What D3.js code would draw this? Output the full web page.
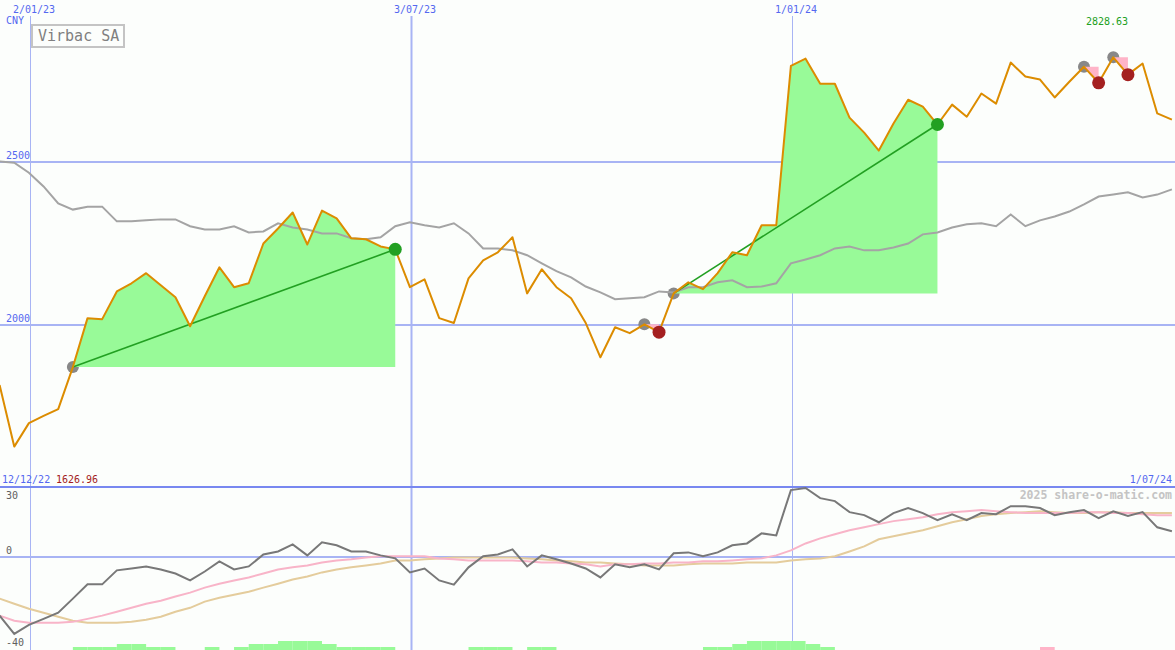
<!DOCTYPE html>
<meta charset="utf-8">
<script src="https://d3js.org/d3.v7.min.js"></script>
<style>
body { margin: 0; background: #fcfefc; }
text { font-family: "DejaVu Sans Mono", monospace; }
</style>
<div id="chart"></div>
<script>
// weekly data, first point is the week of 18 Dec 2022
var firstWeek = new Date(2022, 11, 18);

var price = [1816, 1627, 1699, 1721, 1742, 1871, 2021, 2018, 2103, 2128,
  2159, 2122, 2085, 1996, 2088, 2177, 2116, 2128, 2250, 2296,
  2345, 2247, 2351, 2327, 2266, 2263, 2241, 2232, 2116, 2140,
  2021, 2006, 2143, 2198, 2223, 2269, 2097, 2171, 2116, 2082,
  2006, 1901, 1993, 1975, 2002, 1978, 2097, 2131, 2110, 2159,
  2223, 2214, 2306, 2306, 2795, 2817, 2740, 2740, 2636, 2590,
  2535, 2618, 2691, 2670, 2615, 2676, 2639, 2710, 2679, 2805,
  2762, 2753, 2698, 2746, 2792, 2743, 2821, 2768, 2802, 2649,
  2630];

var average = [2502, 2498, 2467, 2425, 2373, 2354, 2363, 2363, 2318, 2318,
  2321, 2324, 2324, 2303, 2293, 2293, 2303, 2284, 2287, 2312,
  2299, 2293, 2281, 2281, 2266, 2263, 2269, 2303, 2315, 2306,
  2299, 2312, 2281, 2235, 2235, 2229, 2214, 2189, 2165, 2146,
  2118, 2100, 2079, 2082, 2085, 2103, 2100, 2116, 2116, 2131,
  2137, 2116, 2118, 2128, 2189, 2201, 2214, 2235, 2241, 2229,
  2229, 2238, 2250, 2278, 2284, 2299, 2309, 2312, 2303, 2339,
  2303, 2321, 2333, 2348, 2370, 2394, 2400, 2407, 2391, 2400,
  2416];

var momentum = [-25.5, -33.4, -29.5, -26.9, -24.2, -18.1, -11.9, -11.9, -5.8, -5.0,
  -4.1, -5.4, -7.2, -10.2, -6.3, -1.9, -5.4, -4.1, 1.1, 2.4,
  5.5, 0.7, 6.4, 5.1, 2.4, 2.4, 0.7, -0.6, -6.7, -5.0,
  -10.2, -12.0, -4.5, 0.3, 1.1, 3.3, -4.1, 0.7, -1.0, -2.8,
  -5.0, -8.9, -3.2, -4.5, -3.2, -5.4, 1.6, 2.0, 0.3, 2.0,
  5.1, 5.9, 10.3, 9.4, 29.1, 30.0, 25.6, 24.3, 19.5, 18.2,
  15.1, 19.1, 21.3, 19.1, 16.0, 18.6, 16.0, 19.1, 18.6, 22.1,
  22.1, 21.3, 18.2, 19.5, 20.4, 16.9, 19.9, 17.8, 19.5, 12.9,
  11.2];

var signalFast = [-25.5, -27.7, -28.6, -28.6, -28.6, -28.2, -26.9, -25.5, -23.8, -22.1,
  -20.3, -19.0, -17.2, -15.5, -13.3, -11.6, -10.2, -8.9, -7.2, -5.4,
  -4.5, -3.7, -2.4, -1.5, -1.0, -0.2, 0.3, 0.3, 0.3, 0.3,
  -0.6, -1.0, -1.5, -1.5, -1.5, -1.5, -1.9, -2.4, -2.4, -2.8,
  -3.2, -4.1, -3.2, -3.2, -2.8, -2.8, -2.4, -2.4, -1.9, -1.9,
  -1.5, -1.0, -0.6, 0.7, 2.9, 5.9, 8.1, 9.9, 11.6, 12.9,
  14.3, 15.6, 16.4, 17.3, 18.6, 19.5, 19.9, 20.4, 19.9, 19.5,
  19.1, 19.1, 19.1, 19.1, 19.5, 19.5, 19.1, 19.1, 18.6, 18.2,
  18.2];

var signalSlow = [-18.1, -20.3, -22.5, -24.2, -26.0, -27.7, -28.6, -28.6, -28.6, -28.2,
  -27.3, -26.0, -23.8, -22.1, -19.4, -17.7, -16.4, -15.1, -13.3, -11.6,
  -9.8, -8.5, -6.7, -5.4, -4.5, -3.7, -2.8, -1.5, -1.5, -1.0,
  -0.6, -0.2, -0.2, -0.2, -0.2, -0.2, -0.6, -1.0, -1.5, -1.9,
  -2.4, -2.4, -2.8, -3.2, -3.7, -3.7, -3.7, -3.2, -2.8, -2.8,
  -2.8, -2.4, -2.4, -2.4, -1.5, -1.0, -0.6, 0.3, 2.4, 4.6,
  7.7, 9.0, 10.3, 11.6, 13.4, 15.1, 16.4, 17.8, 18.6, 19.1,
  19.5, 19.9, 19.5, 19.1, 19.1, 19.5, 19.5, 19.1, 19.1, 19.1,
  19.1];

// small bars along the bottom: positive = green, negative = pink
var strength = [0, 0, 0, 0, 0,
  1, 1, 1, 2, 2, 1, 1,
  0, 0, 1, 0, 1, 2, 2,
  3, 3, 3, 2, 1, 1, 1,
  1, 0, 0, 0, 0, 0, 1,
  1, 1, 0, 1, 1, 0, 0,
  0, 0, 0, 0, 0, 0, 0,
  0, 1, 1, 2, 3, 3, 3,
  3, 2, 1, 0, 0, 0, 0,
  0, 0, 0, 0, 0, 0, 0,
  0, 0, 0, -1, 0, 0, 0,
  0, 0, 0, 0, 0, 0];

// signal periods (indexes into the weekly data)
var eventStart = [5, 44, 46, 74, 76];
var eventEnd = [27, 45, 64, 75, 77];

var dateTicks = ["2023-01-02", "2023-07-03", "2024-01-01"];
var dateTickLabels = ["2/01/23", "3/07/23", "1/01/24"];
var priceTicks = [2000, 2500];
var momentumTicks = [30, 0, -40];

var width = 1175, height = 650;
var blue = "#5468f0";

var svg = d3.select("#chart").append("svg")
  .attr("width", width)
  .attr("height", height);

svg.append("rect").attr("width", width).attr("height", height).attr("fill", "#fcfefc");

var parseDate = d3.timeParse("%Y-%m-%d");
var dates = price.map(function(d, i) { return d3.timeWeek.offset(firstWeek, i); });

// scales
var x = d3.scaleTime()
  .domain([new Date(2023, 0, 2), new Date(2024, 0, 1)])
  .range([31, 793]);
var y = d3.scaleLinear().domain([2000, 2500]).range([325, 162]);
var oy = d3.scaleLinear().domain([-40, 30]).range([649, 488]);
var barY = d3.scaleLinear().domain([0, 3]).range([650, 641]);

// ---------- grid ----------
svg.selectAll("vgrid")
  .data(dateTicks)
  .enter()
  .append("line")
    .attr("x1", function(d) { return Math.round(x(parseDate(d))) - 0.5; })
    .attr("x2", function(d) { return Math.round(x(parseDate(d))) - 0.5; })
    .attr("y1", 16)
    .attr("y2", height)
    .attr("stroke", "#a8b4f4")
    .attr("stroke-width", function(d, i) { return i == 1 ? 2 : 1; });

svg.selectAll("vlabel")
  .data(dateTicks)
  .enter()
  .append("text")
    .attr("x", function(d) { return x(parseDate(d)) - 18; })
    .attr("y", 13)
    .attr("fill", blue)
    .style("font-size", "10px")
    .text(function(d, i) { return dateTickLabels[i]; });

svg.selectAll("hgrid")
  .data(priceTicks)
  .enter()
  .append("line")
    .attr("x1", 0)
    .attr("x2", width)
    .attr("y1", function(d) { return y(d); })
    .attr("y2", function(d) { return y(d); })
    .attr("stroke", "#a8b4f4")
    .attr("stroke-width", 2);

svg.selectAll("hlabel")
  .data(priceTicks)
  .enter()
  .append("text")
    .attr("x", 6)
    .attr("y", function(d) { return y(d) - 3; })
    .attr("fill", blue)
    .style("font-size", "10px")
    .text(function(d) { return d; });

svg.append("text").attr("x", 6).attr("y", 24).attr("fill", blue)
  .style("font-size", "10px").text("CNY");

// ---------- signal periods ----------
var px = function(i) { return x(dates[i]); };

// start markers (partly under the fills)
svg.selectAll("startdot")
  .data(eventStart)
  .enter()
  .append("circle")
    .attr("cx", function(s) { return px(s); })
    .attr("cy", function(s) { return y(price[s]); })
    .attr("r", 6)
    .attr("fill", "#888888");

eventStart.forEach(function(s, k) {
  var e = eventEnd[k];
  var up = price[e] > price[s];
  var area = d3.area()
    .x(function(i) { return px(i); })
    .y0(y(price[s]))
    .y1(function(i) { return y(price[i]); });
  svg.append("path")
    .datum(d3.range(s, e + 1))
    .attr("d", area)
    .attr("fill", up ? "#98fa98" : "#ffb4c8");
});

// moving average
var priceLine = d3.line()
  .x(function(d, i) { return px(i); })
  .y(function(d) { return y(d); });

svg.append("path")
  .datum(average)
  .attr("d", priceLine)
  .attr("fill", "none")
  .attr("stroke", "#a4a4a4")
  .attr("stroke-width", 2);

// trend lines of the rising periods
eventStart.forEach(function(s, k) {
  var e = eventEnd[k];
  if (price[e] <= price[s]) return;
  svg.append("line")
    .attr("x1", px(s)).attr("y1", y(price[s]))
    .attr("x2", px(e)).attr("y2", y(price[e]))
    .attr("stroke", "#22a022")
    .attr("stroke-width", 1.6);
});

// price
svg.append("path")
  .datum(price)
  .attr("d", priceLine)
  .attr("fill", "none")
  .attr("stroke", "#dc8c00")
  .attr("stroke-width", 2)
  .attr("stroke-linejoin", "round");

svg.selectAll("enddot")
  .data(eventEnd)
  .enter()
  .append("circle")
    .attr("cx", function(e) { return px(e); })
    .attr("cy", function(e) { return y(price[e]); })
    .attr("r", 6.5)
    .attr("fill", function(e, k) { return price[e] > price[eventStart[k]] ? "#22a022" : "#a42020"; });

// title box
svg.append("rect")
  .attr("x", 32).attr("y", 25)
  .attr("width", 92).attr("height", 22)
  .attr("fill", "#fcfefc")
  .attr("stroke", "#c4c4c4")
  .attr("stroke-width", 2);
svg.append("text")
  .attr("x", 38).attr("y", 41)
  .attr("fill", "#808080")
  .style("font-size", "15px")
  .text("Virbac SA");

svg.append("text")
  .attr("x", 1107).attr("y", 25)
  .attr("text-anchor", "middle")
  .attr("fill", "#22a022")
  .style("font-size", "10px")
  .text("2828.63");

// ---------- lower panel ----------
svg.append("line")
  .attr("x1", 0).attr("x2", width)
  .attr("y1", 487).attr("y2", 487)
  .attr("stroke", "#7888f0")
  .attr("stroke-width", 2);

svg.append("line")
  .attr("x1", 0).attr("x2", width)
  .attr("y1", oy(0)).attr("y2", oy(0))
  .attr("stroke", "#a8b4f4")
  .attr("stroke-width", 2);

svg.append("text").attr("x", 2).attr("y", 483).attr("fill", blue)
  .style("font-size", "10px").text("12/12/22");
svg.append("text").attr("x", 56).attr("y", 483).attr("fill", "#a41c1c")
  .style("font-size", "10px").text("1626.96");
svg.append("text").attr("x", 1172).attr("y", 483).attr("fill", blue)
  .attr("text-anchor", "end")
  .style("font-size", "10px").text("1/07/24");

svg.selectAll("olabel")
  .data(momentumTicks)
  .enter()
  .append("text")
    .attr("x", 6)
    .attr("y", function(d, i) { return i == 0 ? 499 : oy(d) - 3; })
    .attr("fill", "#606060")
    .style("font-size", "10px")
    .text(function(d) { return d; });

svg.append("text")
  .attr("x", 1172).attr("y", 499)
  .attr("text-anchor", "end")
  .attr("fill", "#c4c4c4")
  .style("font-size", "11.5px")
  .style("font-weight", "bold")
  .text("2025 share-o-matic.com");

var step = px(1) - px(0);
svg.selectAll("bars")
  .data(strength)
  .enter()
  .append("rect")
    .attr("x", function(d, i) { return px(i); })
    .attr("width", step)
    .attr("y", function(d) { return barY(Math.abs(d)); })
    .attr("height", function(d) { return barY(0) - barY(Math.abs(d)); })
    .attr("fill", function(d) { return d < 0 ? "#ffb4c8" : "#98fa98"; });

var oscLine = d3.line()
  .x(function(d, i) { return px(i); })
  .y(function(d) { return oy(d); });

svg.append("path").datum(signalSlow).attr("d", oscLine)
  .attr("fill", "none").attr("stroke", "#e4cc9c").attr("stroke-width", 2);
svg.append("path").datum(signalFast).attr("d", oscLine)
  .attr("fill", "none").attr("stroke", "#f8b4c8").attr("stroke-width", 2);
svg.append("path").datum(momentum).attr("d", oscLine)
  .attr("fill", "none").attr("stroke", "#787878").attr("stroke-width", 2);
</script>
